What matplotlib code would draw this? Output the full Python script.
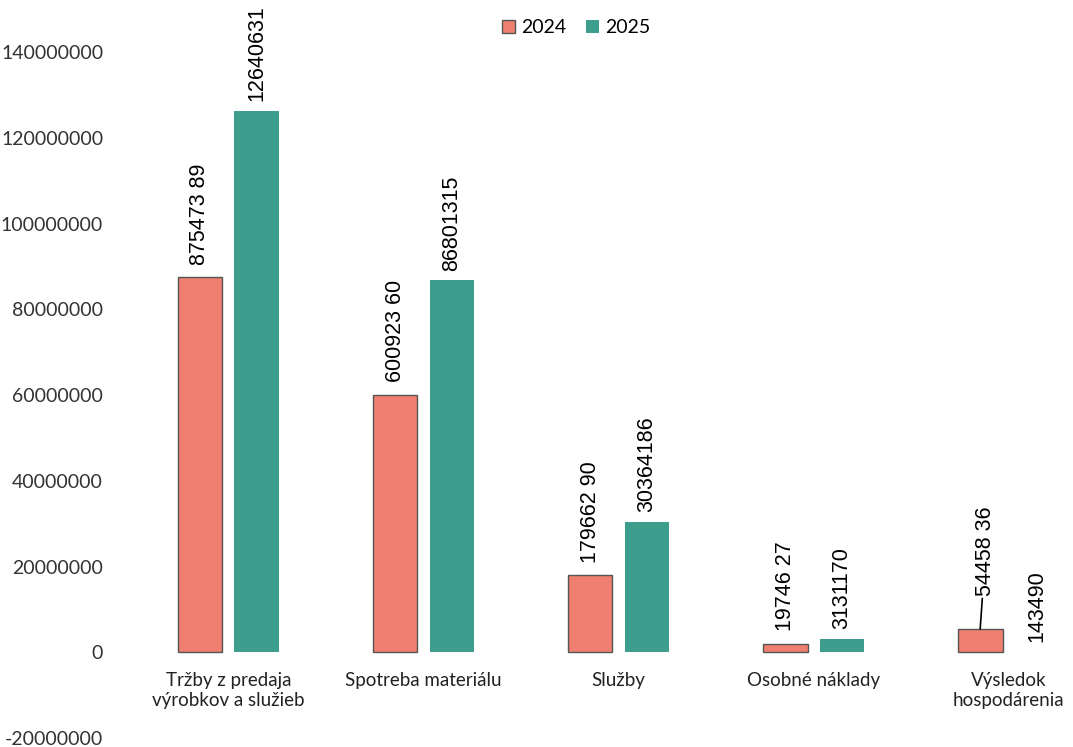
import matplotlib.pyplot as plt
import numpy as np

categories = ["Tržby z predaja\nvýrobkov a služieb", "Spotreba materiálu", "Služby",
              "Osobné náklady", "Výsledok\nhospodárenia"]
values_2024 = [87547389, 60092360, 17966290, 1974627, 5445836]
values_2025 = [126406310, 86801315, 30364186, 3131170, 143490]
labels_2024 = ["875473 89", "600923 60", "179662 90", "19746 27", "54458 36"]
labels_2025 = ["12640631", "86801315", "30364186", "3131170", "143490"]
yticks = [-20000000, 0, 20000000, 40000000, 60000000, 80000000, 100000000, 120000000, 140000000]

c2024 = "#ef8070"
c2025 = "#3d9e8e"
label_font = ["Liberation Sans", "DejaVu Sans"]
text_font = ["Lato", "DejaVu Sans"]

fig = plt.figure(figsize=(10.73, 7.47), dpi=100)
ax = fig.add_axes([0.122, 0.012, 0.878, 0.918])

x = np.arange(len(categories))
w = 0.23
off = 0.146
ax.bar(x - off, values_2024, w, color=c2024, edgecolor="#555555", linewidth=1.0, label="2024")
ax.bar(x + off, values_2025, w, color=c2025, linewidth=0, label="2025")

for i in range(len(categories)):
    if i == 4:
        ax.annotate(labels_2024[i], xy=(x[i] - off, values_2024[i]), xytext=(4, 24),
                    textcoords="offset points", rotation=90, ha="center", va="bottom",
                    fontsize=15.5, family=label_font,
                    arrowprops=dict(arrowstyle="-", color="black", lw=1.2, shrinkA=0, shrinkB=0))
    else:
        ax.annotate(labels_2024[i], xy=(x[i] - off, values_2024[i]), xytext=(0, 9),
                    textcoords="offset points", rotation=90, ha="center", va="bottom",
                    fontsize=15.5, family=label_font)
    ax.annotate(labels_2025[i], xy=(x[i] + off, values_2025[i]), xytext=(0, 7),
                textcoords="offset points", rotation=90, ha="center", va="bottom",
                fontsize=15.5, family=label_font, annotation_clip=False)

ax.set_xlim(-0.5, 4.33)
ax.set_ylim(-20000000, 140000000)
ax.set_yticks(yticks)
ax.set_yticklabels([str(v) for v in yticks], family=text_font, fontsize=14, color="#333333")
ax.tick_params(axis="y", length=0, pad=20)

ax.spines["bottom"].set_position(("data", 0))
ax.set_xticks(x)
ax.set_xticklabels(categories, family=text_font, fontsize=13.5, color="#222222")
ax.tick_params(axis="x", length=0, pad=14)
for s in ["top", "right", "left", "bottom"]:
    ax.spines[s].set_visible(False)

fig.legend(loc="center", bbox_to_anchor=(0.537, 0.963), ncol=2, frameon=False,
           prop={"family": text_font, "size": 14}, handlelength=0.7, handleheight=0.7,
           handletextpad=0.3, columnspacing=1.0)

fig.savefig("out.png", dpi=100)
